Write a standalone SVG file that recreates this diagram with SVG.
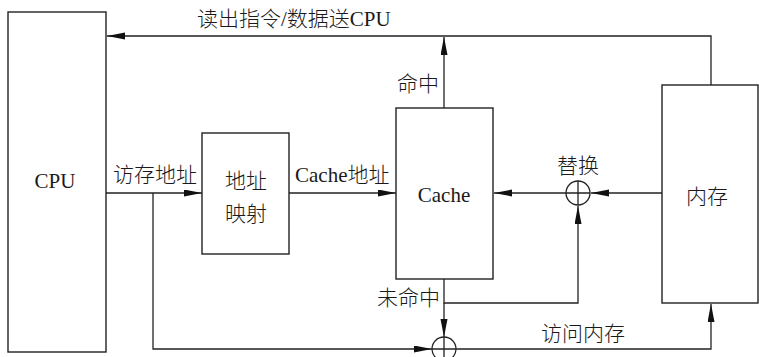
<svg xmlns="http://www.w3.org/2000/svg" width="759" height="357" viewBox="0 0 759 357">
<style>
.box{fill:#fff;stroke:#222;stroke-width:1.4}
.ln{fill:none;stroke:#222;stroke-width:1.3}
.t{font-family:"Liberation Serif","Noto Sans CJK SC",serif;font-size:21px;font-weight:300;fill:#1a1a1a}
.m{text-anchor:middle}
</style>
<defs>
<marker id="ah" markerUnits="userSpaceOnUse" markerWidth="19" markerHeight="8" refX="18" refY="3.5" orient="auto">
<path d="M0,0 L18,3.5 L0,7 z" fill="#111"/>
</marker>
</defs>
<rect width="759" height="357" fill="#fff"/>
<g id="connectors">
<path class="ln" d="M711,85 V36 H107" marker-end="url(#ah)"/>
<path class="ln" d="M444,108 V37" marker-end="url(#ah)"/>
<path class="ln" d="M106,193 H202" marker-end="url(#ah)"/>
<path class="ln" d="M289,193 H396" marker-end="url(#ah)"/>
<path class="ln" d="M662,193 H591" marker-end="url(#ah)"/>
<path class="ln" d="M566,193 H494" marker-end="url(#ah)"/>
<path class="ln" d="M444,279 V303 H578 V206" marker-end="url(#ah)"/>
<path class="ln" d="M444,303 V337" marker-end="url(#ah)"/>
<path class="ln" d="M153,193 V349 H432" marker-end="url(#ah)"/>
<path class="ln" d="M456,349 H711 V304" marker-end="url(#ah)"/>
</g>
<g id="cpu">
<rect class="box" x="8" y="12" width="98" height="340"/>
<text class="t m" x="55" y="188">CPU</text>
</g>
<g id="map">
<rect class="box" x="202" y="133" width="87" height="121"/>
<text class="t m" x="246" y="188">地址</text>
<text class="t m" x="246" y="221">映射</text>
</g>
<g id="cache">
<rect class="box" x="396" y="108" width="97" height="171"/>
<text class="t m" x="444" y="202">Cache</text>
</g>
<g id="memory">
<rect class="box" x="662" y="85" width="96" height="218"/>
<text class="t m" x="707" y="204">内存</text>
</g>
<g id="replace-join">
<circle class="ln" cx="578" cy="193" r="12" fill="#fff"/>
<path class="ln" d="M566,193 H590 M578,181 V205"/>
</g>
<g id="access-join">
<circle class="ln" cx="444" cy="349" r="12" fill="#fff"/>
<path class="ln" d="M432,349 H456 M444,337 V361"/>
</g>
<g id="labels">
<text class="t" x="197" y="26">读出指令/数据送CPU</text>
<text class="t" x="113" y="182">访存地址</text>
<text class="t" x="295" y="182">Cache地址</text>
<text class="t" x="397" y="91">命中</text>
<text class="t" x="557" y="173">替换</text>
<text class="t" x="377" y="305">未命中</text>
<text class="t" x="541" y="341">访问内存</text>
</g>
</svg>
